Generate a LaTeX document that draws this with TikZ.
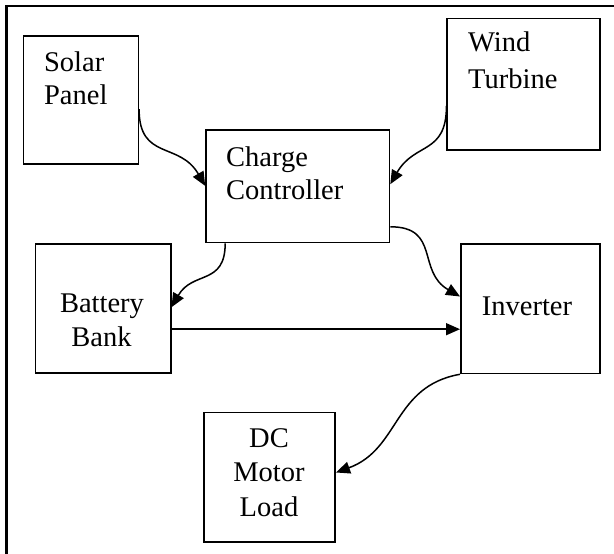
\documentclass[tikz,border=0pt]{standalone}
\usepackage{fontspec}
\setmainfont{Liberation Serif}
\usetikzlibrary{arrows.meta}
\tikzset{
  blk/.style={draw, line width=1.6pt, inner sep=0pt, rectangle},
  txt/.style={inner sep=0pt, font=\fontsize{28.5}{34}\selectfont},
  arr/.style={line width=1.5pt, -{Triangle[length=14pt,width=12pt]}},
}
\begin{document}
\begin{tikzpicture}[x=1pt,y=1pt]
\useasboundingbox (0,0) rectangle (614,554);
% outer frame (top and left)
\draw[line width=2.2pt] (6.5,0) -- (6.5,548) -- (614,548);
% boxes
\node[blk, minimum width=114.8pt, minimum height=128.3pt] (sp) at (80.9,454.1) {};
\node[blk, minimum width=152.7pt, minimum height=131.7pt] (wt) at (523.6,469.8) {};
\node[blk, minimum width=183.5pt, minimum height=112.5pt] (cc) at (297.75,367.75) {};
\node[blk, minimum width=135.1pt, minimum height=129.3pt] (bb) at (103.15,245.35) {};
\node[blk, minimum width=139.2pt, minimum height=129.5pt] (inv) at (530.4,245.25) {};
\node[blk, minimum width=131.2pt, minimum height=129.3pt] (dc) at (269.6,76.65) {};
% texts
\node[txt, anchor=base west] (sp1) at (43.9,482.3) {Solar};
\node[txt, anchor=base west] (sp2) at (43.9,449) {Panel};
\node[txt, anchor=base west] (wt1) at (468,502) {Wind};
\node[txt, anchor=base west] (wt2) at (468,465.5) {Turbine};
\node[txt, anchor=base west] (cc1) at (226,387) {Charge};
\node[txt, anchor=base west] (cc2) at (226,354.5) {Controller};
\node[txt, anchor=base] (bb1) at (102,241) {Battery};
\node[txt, anchor=base] (bb2) at (101.5,207) {Bank};
\node[txt, anchor=base] (inv1) at (527,238) {Inverter};
\node[txt, anchor=base] (dc1) at (269,106) {DC};
\node[txt, anchor=base] (dc2) at (269,72) {Motor};
\node[txt, anchor=base] (dc3) at (269,37) {Load};
% connectors
\draw[arr] ([yshift=-74.3pt]sp.north east) to[out=-90,in=120,looseness=1.3] ([yshift=-56.7pt]cc.north west);
\draw[arr] ([yshift=-88.4pt]wt.north west) to[out=-90,in=60,looseness=1.3] ([yshift=-55pt]cc.north east);
\draw[arr] ([xshift=20pt]cc.south west) to[out=-90,in=60,looseness=1.3] ([yshift=-64pt]bb.north east);
\draw[arr] ([yshift=16.5pt]cc.south east) to[out=0,in=150,looseness=1.3] ([yshift=-53.3pt]inv.north west);
\draw[arr] ([yshift=-86pt]bb.north east) -- ([yshift=-86pt]inv.north west);
\draw[arr] (inv.south west) to[out=190,in=20,looseness=1.1] ([yshift=-60.6pt]dc.north east);
\end{tikzpicture}
\end{document}
